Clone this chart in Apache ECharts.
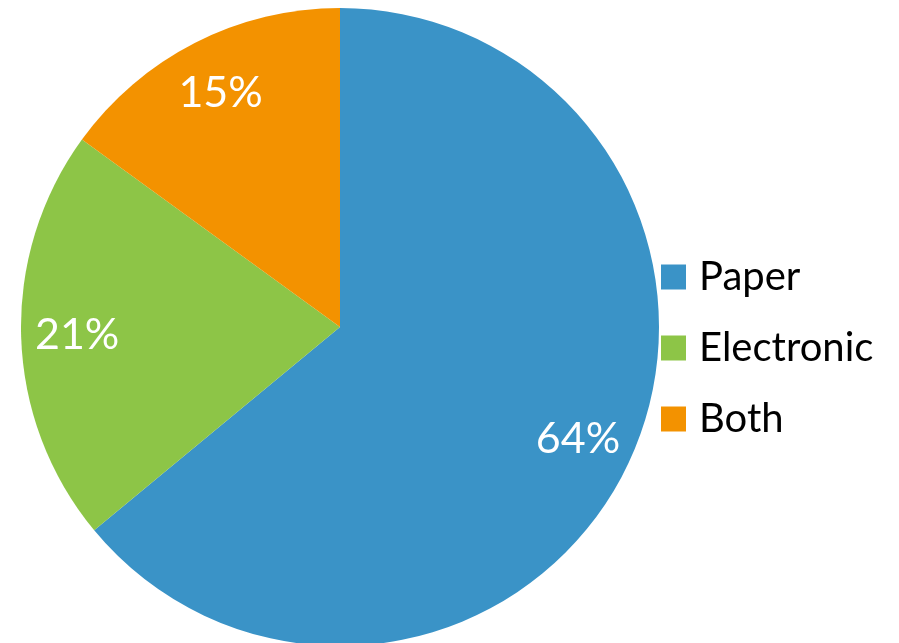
<!DOCTYPE html>
<html>
<head>
<meta charset="utf-8">
<script src="https://cdn.jsdelivr.net/npm/echarts@6/dist/echarts.min.js"></script>
<style>
  html, body { margin: 0; padding: 0; background: #ffffff; }
  #chart { width: 899px; height: 643px; }
</style>
</head>
<body>
<div id="chart"></div>
<script>
// Share of respondents by format
const categories = ['Paper', 'Electronic', 'Both'];
const shares = [64, 21, 15];
const colors = ['#3A93C7', '#8DC547', '#F39200'];

const pieData = categories.map((name, i) => ({
  name: name,
  value: shares[i],
  itemStyle: { color: colors[i] }
}));

const center = [340, 327];
const outerR = 319;
const fontFamily = '"Lato", "Open Sans", sans-serif';

const chart = echarts.init(document.getElementById('chart'), null, { renderer: 'canvas' });
chart.setOption({
  animation: false,
  backgroundColor: '#ffffff',
  legend: {
    orient: 'vertical',
    left: 656,
    top: 249,
    padding: 5,
    icon: 'rect',
    itemWidth: 25,
    itemHeight: 25,
    itemGap: 25,
    data: categories,
    textStyle: {
      fontFamily: fontFamily,
      fontSize: 40,
      lineHeight: 46,
      color: '#000000',
      padding: [0, 0, 0, 8]
    }
  },
  series: [
    {
      // filled slices
      name: 'Format',
      type: 'pie',
      center: center,
      radius: [0, outerR],
      startAngle: 90,
      clockwise: true,
      data: pieData,
      label: { show: false },
      labelLine: { show: false },
      itemStyle: { borderWidth: 0 },
      emphasis: { disabled: true }
    },
    {
      // transparent ring carrying the percentage labels near the rim
      name: 'Labels',
      type: 'pie',
      center: center,
      radius: [outerR * 0.63, outerR],
      startAngle: 90,
      clockwise: true,
      silent: true,
      legendHoverLink: false,
      data: categories.map((name, i) => ({ name: name, value: shares[i] })),
      itemStyle: { color: 'rgba(0,0,0,0)', borderWidth: 0 },
      label: {
        show: true,
        position: 'inside',
        formatter: p => p.value + '%',
        color: '#ffffff',
        fontFamily: fontFamily,
        fontSize: 43
      },
      labelLine: { show: false },
      emphasis: { disabled: true }
    }
  ]
});
</script>
</body>
</html>
